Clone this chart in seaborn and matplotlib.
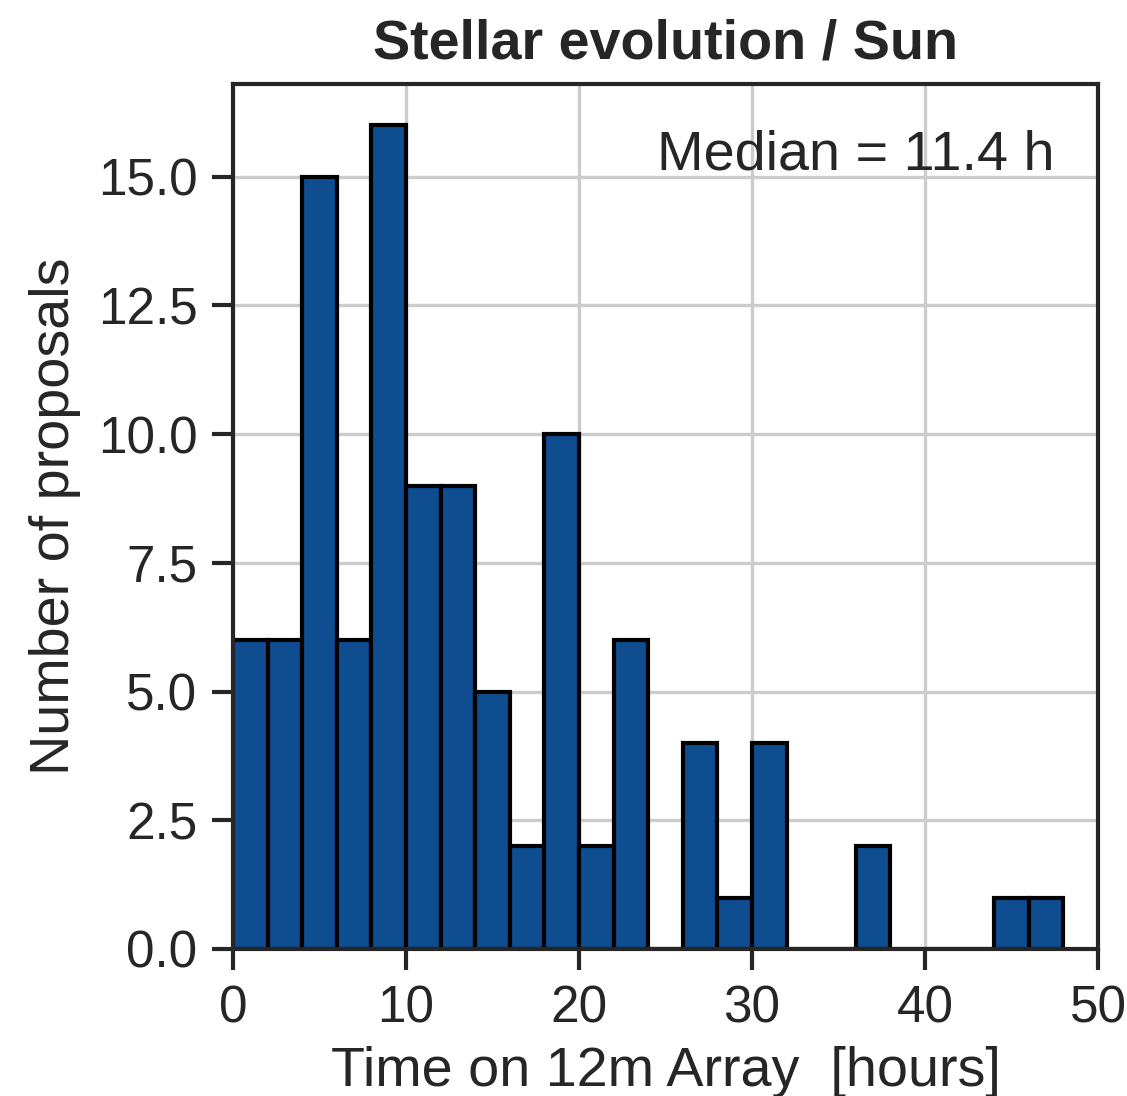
import numpy as np
import pandas as pd
import matplotlib
matplotlib.use("Agg")
import matplotlib.pyplot as plt
import seaborn as sns

bin_edges = list(range(0, 50, 2))  # 0..48
counts = [6, 6, 15, 6, 16, 9, 9, 5, 2, 10, 2, 6, 0, 4, 1, 4, 0, 0, 2, 0, 0, 0, 1, 1]
median_hours = 11.4
title = "Stellar evolution / Sun"
xlabel = "Time on 12m Array  [hours]"
ylabel = "Number of proposals"

sns.set_theme(style="ticks", rc={"axes.grid": True})
plt.rcParams['font.family'] = ['Liberation Sans', 'DejaVu Sans']

centers = [(bin_edges[i] + bin_edges[i + 1]) / 2 for i in range(len(counts))]
df = pd.DataFrame({"t": centers, "n": counts})

fig = plt.figure(figsize=(1127 / 300, 1096 / 300), dpi=300)
ax = fig.add_axes([233 / 1127, 1 - 949 / 1096, (1098 - 233) / 1127, (949 - 84) / 1096])
sns.histplot(data=df, x="t", weights="n", bins=bin_edges, ax=ax,
             color="#0f4d91", alpha=1, edgecolor="black", linewidth=1.0)
ax.set_xlim(0, 50)
ax.set_ylim(0, 16.8)
ax.set_yticks(np.arange(0, 16, 2.5))
ax.set_yticklabels([f"{v:.1f}" for v in np.arange(0, 16, 2.5)])
ax.grid(True, color="#cccccc", linewidth=0.8)
ax.set_axisbelow(True)
for s in ax.spines.values():
    s.set_linewidth(1.0)
    s.set_color("#262626")
ax.tick_params(labelsize=12.3, length=5, width=1.0, colors="#262626")
ax.set_xlabel(xlabel, fontsize=13.4, color="#262626", labelpad=3)
ax.set_ylabel(ylabel, fontsize=13.4, color="#262626")
ax.set_title(title, fontsize=13.4, fontweight="bold", color="#262626", pad=6)
ax.text(0.95, 0.917, f"Median = {median_hours} h", transform=ax.transAxes,
        ha="right", va="center", fontsize=13.4, color="#262626")
fig.savefig("out.png", dpi=300)
